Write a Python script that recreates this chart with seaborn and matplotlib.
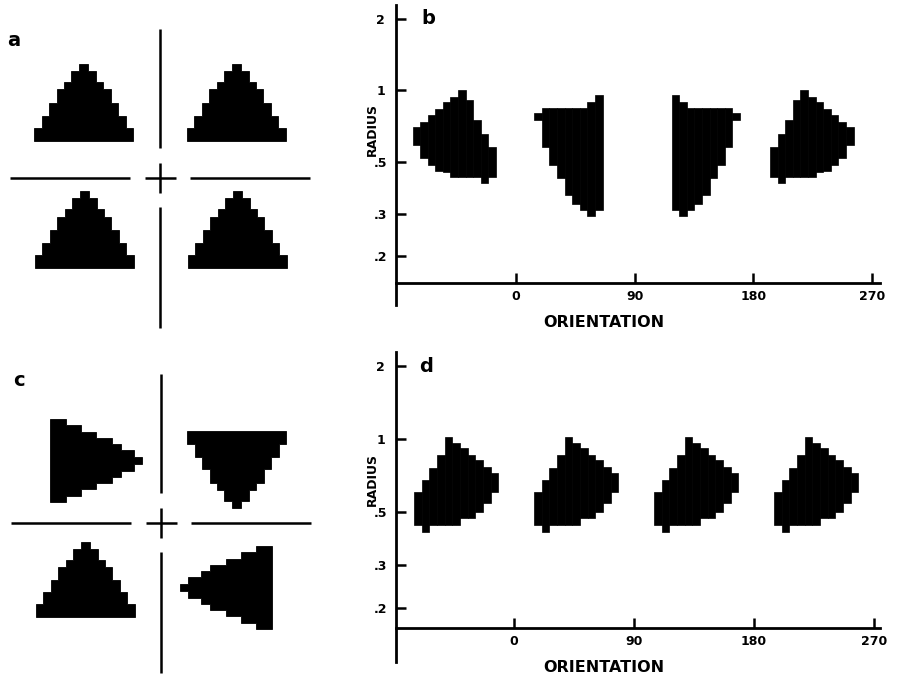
"""Log-polar mapping of pixel triangles (panels a-d) redrawn with seaborn styling."""

import matplotlib

matplotlib.use("Agg")

import matplotlib.pyplot as plt
from matplotlib.patches import Polygon
from matplotlib.ticker import NullLocator
from matplotlib.transforms import Affine2D
import seaborn as sns

# ---- panels a / c : the stimulus triangles (image pixel units, cross at 0,0)
TRI_ROW_EDGES = [0, 13, 25.5, 38, 51.5, 59, 70, 77]
TRI_HALF_WIDTHS = [49.5, 42, 34.5, 27, 19.5, 12.5, 4.5]

# base-centre x, base-centre y, rotation, x stretch, y stretch
PANEL_A_TRIANGLES = [
    (-76.5, 37, 0, 1.0, 1.0),
    (76, 37, 0, 1.0, 1.0),
    (-76, -90, 0, 1.0, 1.0),
    (77, -90, 0, 1.0, 1.0),
]
PANEL_C_TRIANGLES = [
    (-111, 62.5, -90, 1.2, 0.84),
    (75.5, 92, 180, 1.0, 1.0),
    (-76, -94, 0, 1.0, 0.97),
    (111, -64.5, 90, 1.2, 0.84),
]

# the fixation lines: (x0, x1), (y0, y1)
CROSS_LINES = [
    ((0, 0), (30, 149)),
    ((0, 0), (-29, -150)),
    ((-150, -30), (0, 0)),
    ((30, 150), (0, 0)),
    ((-15, 16), (0, 0)),
    ((0, 0), (-15, 15)),
]

# ---- panels b / d : log-polar images, one column per orientation cell
CELL_DEG = 5.75

BLOB_A_TOP = [0.70, 0.735, 0.785, 0.835, 0.89, 0.935, 1.0, 0.91, 0.75, 0.655, 0.575]
BLOB_A_BOTTOM = [0.585, 0.52, 0.485, 0.455, 0.45, 0.43, 0.43, 0.43, 0.43, 0.405, 0.43]

BLOB_B_TOP = [0.80, 0.84, 0.84, 0.84, 0.84, 0.84, 0.84, 0.89, 0.95]
BLOB_B_BOTTOM = [0.75, 0.577, 0.483, 0.425, 0.361, 0.333, 0.313, 0.295, 0.313]

BLOB_D_TOP = [0.60, 0.676, 0.76, 0.858, 1.02, 0.963, 0.918, 0.858, 0.819, 0.768, 0.725]
BLOB_D_BOTTOM = [0.44, 0.413, 0.44, 0.44, 0.44, 0.44, 0.471, 0.471, 0.50, 0.543, 0.605]

# shape, left orientation, mirrored
PANEL_B_BLOBS = [("A", -78.1, False), ("B", 14.1, False), ("B", 118.1, True), ("A", 192.6, True)]
PANEL_D_STARTS = [-75, 15, 105, 195]

RADIUS_TICKS = [0.2, 0.3, 0.5, 1, 2]
RADIUS_LABELS = [".2", ".3", ".5", "1", "2"]
ORIENT_TICKS = [0, 90, 180, 270]

SHAPES = {
    "A": (BLOB_A_TOP, BLOB_A_BOTTOM),
    "B": (BLOB_B_TOP, BLOB_B_BOTTOM),
    "D": (BLOB_D_TOP, BLOB_D_BOTTOM),
}

W, H = 903, 677


def staircase(edges, half_widths):
    left, right = [], []
    for y0, y1, hw in zip(edges[:-1], edges[1:], half_widths):
        left += [(-hw, y0), (-hw, y1)]
        right += [(hw, y0), (hw, y1)]
    return left + right[::-1]


def stimulus_panel(fig, rect, xlim, ylim, triangles, letter, letter_xy):
    ax = fig.add_axes(rect)
    ax.set_xlim(*xlim)
    ax.set_ylim(*ylim)
    ax.axis("off")
    verts = staircase(TRI_ROW_EDGES, TRI_HALF_WIDTHS)
    for tx, ty, rot, sx, sy in triangles:
        tr = Affine2D().rotate_deg(rot).scale(sx, sy).translate(tx, ty) + ax.transData
        ax.add_patch(Polygon(verts, closed=True, facecolor="black",
                             edgecolor="black", linewidth=0.6, transform=tr))
    for xs, ys in CROSS_LINES:
        ax.plot(xs, ys, color="black", linewidth=1.8, solid_capstyle="butt")
    ax.text(*letter_xy, letter, fontsize=14, fontweight="bold",
            ha="center", va="center", color="black")
    return ax


def draw_blob(ax, shape, start, mirrored):
    tops, bottoms = SHAPES[shape]
    if mirrored:
        tops, bottoms = tops[::-1], bottoms[::-1]
    lefts = [start + i * CELL_DEG for i in range(len(tops))]
    heights = [t - b for t, b in zip(tops, bottoms)]
    ax.bar(lefts, heights, bottom=bottoms, width=CELL_DEG, align="edge",
           color="black", edgecolor="black", linewidth=0.5)


def logpolar_panel(fig, rect, xlim, ylim, axis_r, letter):
    ax = fig.add_axes(rect)
    ax.set_yscale("log")
    ax.set_xlim(*xlim)
    ax.set_ylim(*ylim)
    sns.despine(ax=ax, top=True, right=True)
    ax.spines["bottom"].set_position(("data", axis_r))
    for side in ("left", "bottom"):
        ax.spines[side].set_linewidth(2)
        ax.spines[side].set_color("black")
    ax.set_yticks(RADIUS_TICKS)
    ax.set_yticklabels(RADIUS_LABELS)
    ax.yaxis.set_minor_locator(NullLocator())
    ax.xaxis.set_minor_locator(NullLocator())
    ax.set_xticks(ORIENT_TICKS)
    ax.set_xticklabels([str(t) for t in ORIENT_TICKS])
    ax.tick_params(axis="both", which="major", direction="in", length=7,
                   width=1.8, labelsize=9, color="black", labelcolor="black",
                   bottom=True, left=True, top=False, right=False)
    ax.tick_params(axis="y", pad=11)
    ax.tick_params(axis="x", pad=5)
    for lbl in ax.get_yticklabels():
        lbl.set_ha("center")
    ax.annotate("ORIENTATION", xy=(67, axis_r), xytext=(0, -28),
                textcoords="offset points", ha="center", va="center",
                fontsize=11.5, fontweight="bold", color="black",
                annotation_clip=False)
    ax.annotate("RADIUS", xy=(xlim[0], 0.68), xytext=(-17, 0),
                textcoords="offset points", ha="center", va="center",
                rotation=90, fontsize=9, fontweight="bold", color="black",
                annotation_clip=False)
    ax.text(-66, 2.0, letter, fontsize=14, fontweight="bold",
            ha="center", va="center", color="black")
    ax.grid(False)
    return ax


def main() -> None:
    sns.set_theme(style="ticks")
    plt.rcParams["font.family"] = ["DejaVu Sans"]
    plt.rcParams["font.weight"] = "bold"
    plt.rcParams["text.color"] = "black"

    fig = plt.figure(figsize=(W / 100, H / 100), dpi=100)

    stimulus_panel(fig, [0, 1 - 338 / H, 320 / W, 320 / H],
                   (-160, 160), (-160, 160), PANEL_A_TRIANGLES, "a", (-146, 138))
    stimulus_panel(fig, [0, 0, 320 / W, 320 / H],
                   (-161, 159), (-154, 166), PANEL_C_TRIANGLES, "c", (-142, 143))

    ax_b = logpolar_panel(fig, [396 / W, 1 - 305 / H, 484 / W, 300 / H],
                          (-90.6, 275.8), (0.1246, 2.28), 0.1539, "b")
    for shape, start, mirrored in PANEL_B_BLOBS:
        draw_blob(ax_b, shape, start, mirrored)

    ax_d = logpolar_panel(fig, [396 / W, 1 - 662 / H, 484 / W, 310 / H],
                          (-88.5, 274.5), (0.119, 2.29), 0.164, "d")
    for start in PANEL_D_STARTS:
        draw_blob(ax_d, "D", start, False)

    fig.savefig("out.png", dpi=100, facecolor="white")
    plt.close(fig)


if __name__ == "__main__":
    main()
